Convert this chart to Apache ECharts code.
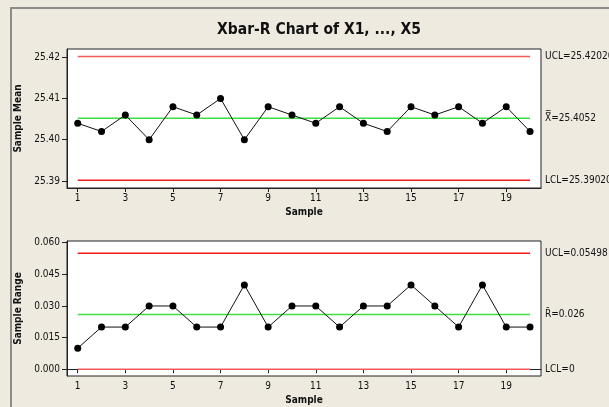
<!DOCTYPE html>
<html>
<head>
<meta charset="utf-8">
<script src="https://cdn.jsdelivr.net/npm/echarts@6/dist/echarts.min.js"></script>
<style>
  html, body { margin: 0; padding: 0; background: #eeeae0; }
  #chart { width: 609px; height: 407px; }
</style>
</head>
<body>
<div id="chart"></div>
<script>
// Xbar-R chart data
var samples = [1,2,3,4,5,6,7,8,9,10,11,12,13,14,15,16,17,18,19,20];
var xbarVals = [25.404,25.402,25.406,25.400,25.408,25.406,25.410,25.400,25.408,25.406,
                25.404,25.408,25.404,25.402,25.408,25.406,25.408,25.404,25.408,25.402];
var rangeVals = [0.01,0.02,0.02,0.03,0.03,0.02,0.02,0.04,0.02,0.03,
                 0.03,0.02,0.03,0.03,0.04,0.03,0.02,0.04,0.02,0.02];
var xbarLimits = { ucl: 25.4202, cl: 25.4052, lcl: 25.3902 };
var rLimits = { ucl: 0.05498, cl: 0.026, lcl: 0 };
var xTicks = [1,3,5,7,9,11,13,15,17,19];
var meanTicks = [25.39, 25.40, 25.41, 25.42];
var rangeTicks = [0, 0.015, 0.030, 0.045, 0.060];

var font = 'DejaVu Sans Condensed';
var chart = echarts.init(document.getElementById('chart'));

function pts(vals) {
    return vals.map(function (v, i) { return [samples[i], v]; });
}

// control limit line from first to last sample, label at right
function limitLine(idx, y, color, label) {
    return {
        type: 'line', xAxisIndex: idx, yAxisIndex: idx,
        data: [[samples[0], y], [samples[samples.length - 1], y]],
        symbol: 'none', silent: true, z: 1,
        lineStyle: { color: color, width: 1.5 },
        endLabel: {
            show: true, formatter: label, distance: 15,
            fontFamily: font, fontSize: 10, color: '#111'
        }
    };
}

function xAxisDef(idx, gap) {
    return {
        type: 'value', gridIndex: idx, min: 0.55, max: 20.46,
        axisLine: { lineStyle: { color: '#222' } },
        axisTick: { show: true, length: 4, customValues: xTicks, lineStyle: { color: '#222' } },
        axisLabel: { customValues: xTicks, fontFamily: font, fontSize: 10, color: '#111', margin: 5 },
        splitLine: { show: false },
        name: 'Sample', nameLocation: 'middle', nameGap: gap,
        nameTextStyle: { fontFamily: font, fontWeight: 'bold', fontSize: 10, color: '#111' }
    };
}

function yAxisDef(idx, min, max, ticks, digits, name) {
    return {
        type: 'value', gridIndex: idx, min: min, max: max,
        axisLine: { show: true, lineStyle: { color: '#222' } },
        axisTick: { show: true, length: 5, customValues: ticks, lineStyle: { color: '#222' } },
        axisLabel: {
            customValues: ticks, fontFamily: font, fontSize: 10, color: '#111', margin: 7,
            formatter: function (v) { return v.toFixed(digits); }
        },
        splitLine: { show: false },
        name: name, nameLocation: 'middle', nameGap: 44,
        nameTextStyle: { fontFamily: font, fontWeight: 'bold', fontSize: 10, color: '#111' }
    };
}

var option = {
    backgroundColor: '#eeeae0',
    animation: false,
    title: {
        text: 'Xbar-R Chart of X1, ..., X5', left: 314, top: 17, textAlign: 'center',
        textStyle: { fontFamily: font, fontWeight: 'bold', fontSize: 15.5, color: '#111' }
    },
    graphic: [{
        type: 'rect', shape: { x: 11, y: 8, width: 700, height: 500 },
        style: { fill: null, stroke: '#8c8c8c', lineWidth: 2 }, silent: true, z: -10
    }],
    grid: [
        { left: 67, top: 49, width: 474, height: 139, show: true, backgroundColor: '#fff', borderColor: '#222', borderWidth: 1 },
        { left: 67, top: 241, width: 474, height: 135, show: true, backgroundColor: '#fff', borderColor: '#222', borderWidth: 1 }
    ],
    xAxis: [xAxisDef(0, 19), xAxisDef(1, 19)],
    yAxis: [
        yAxisDef(0, 25.3883, 25.4220, meanTicks, 2, 'Sample Mean'),
        yAxisDef(1, -0.0032, 0.0608, rangeTicks, 3, 'Sample Range')
    ],
    series: [
        limitLine(0, xbarLimits.ucl, '#f45a5a', 'UCL=25.42020'),
        limitLine(0, xbarLimits.cl, '#3ce03c', 'X\u033F=25.4052'),
        limitLine(0, xbarLimits.lcl, '#f21c1c', 'LCL=25.39020'),
        limitLine(1, rLimits.ucl, '#f21c1c', 'UCL=0.05498'),
        limitLine(1, rLimits.cl, '#3ce03c', 'R\u0304=0.026'),
        limitLine(1, rLimits.lcl, '#f45a5a', 'LCL=0'),
        {
            type: 'line', xAxisIndex: 0, yAxisIndex: 0, data: pts(xbarVals),
            symbol: 'circle', symbolSize: 7, z: 3,
            itemStyle: { color: '#000' }, lineStyle: { color: '#111', width: 1 }
        },
        {
            type: 'line', xAxisIndex: 1, yAxisIndex: 1, data: pts(rangeVals),
            symbol: 'circle', symbolSize: 7, z: 3,
            itemStyle: { color: '#000' }, lineStyle: { color: '#111', width: 1 }
        }
    ]
};
chart.setOption(option);
</script>
</body>
</html>
